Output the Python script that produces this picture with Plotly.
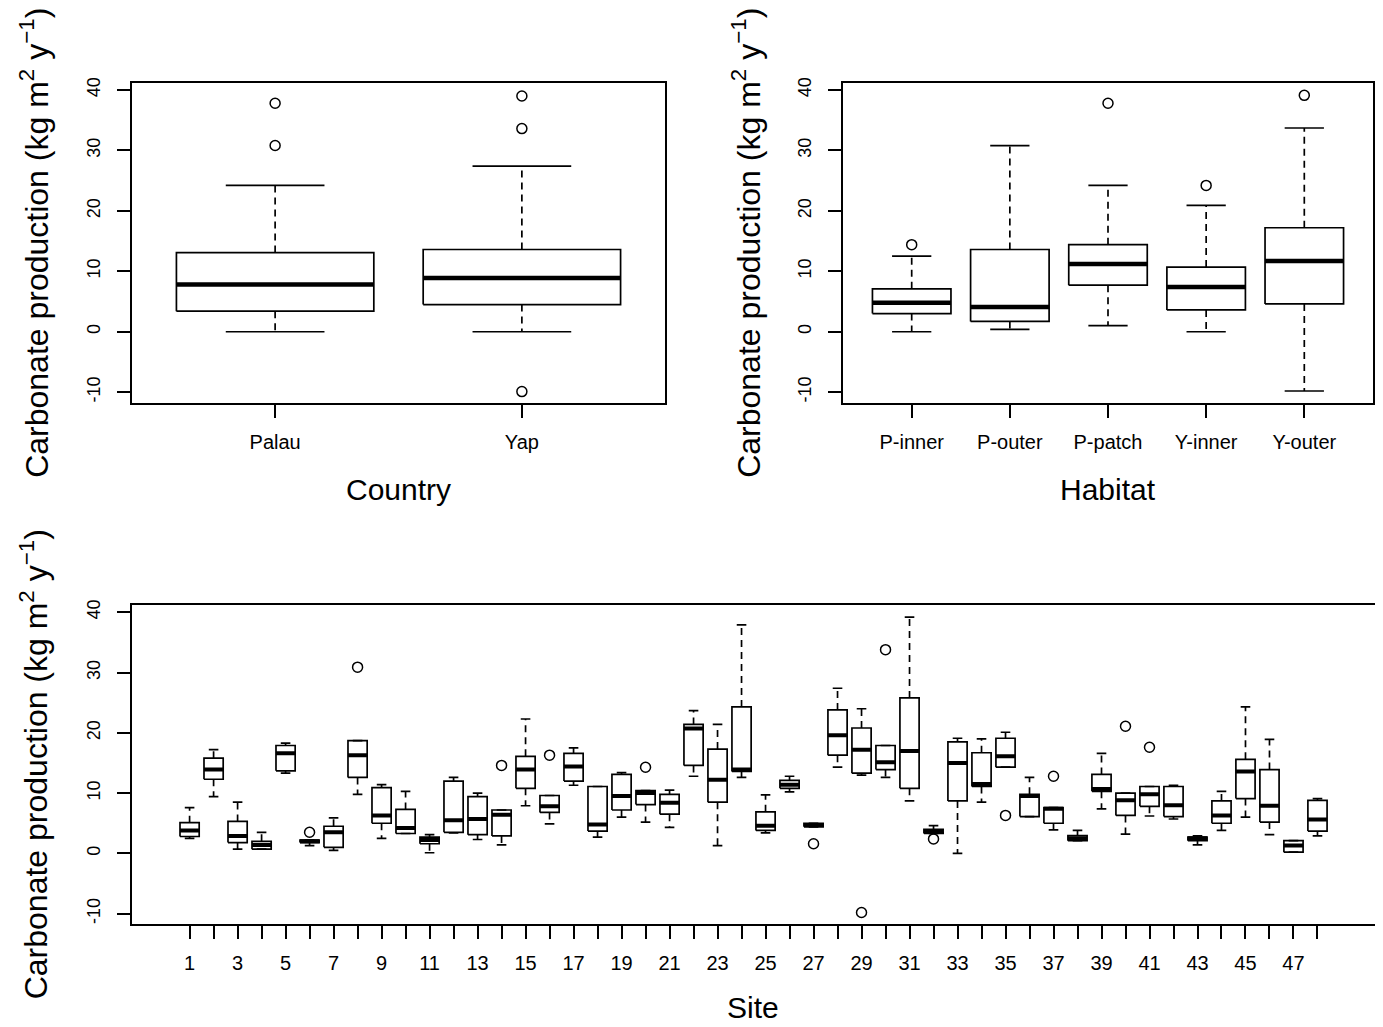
import plotly.graph_objects as go

# ---------------- data ----------------
countries = ["Palau", "Yap"]
country_lower = [0.0, 0.0]
country_q1 = [3.4, 4.5]
country_median = [7.8, 8.9]
country_q3 = [13.1, 13.6]
country_upper = [24.2, 27.4]
country_out_group = [1, 1, 2, 2, 2]
country_out_value = [37.8, 30.8, 39.0, 33.6, -9.9]

habitats = ["P-inner", "P-outer", "P-patch", "Y-inner", "Y-outer"]
habitat_lower = [0.0, 0.4, 1.0, 0.0, -9.8]
habitat_q1 = [3.0, 1.7, 7.7, 3.6, 4.6]
habitat_median = [4.8, 4.1, 11.2, 7.4, 11.7]
habitat_q3 = [7.1, 13.6, 14.4, 10.7, 17.2]
habitat_upper = [12.5, 30.8, 24.2, 20.9, 33.7]
habitat_out_group = [1, 3, 4, 5]
habitat_out_value = [14.4, 37.8, 24.2, 39.1]

sites = list(range(1, 49))
site_lower = [2.5, 9.4, 0.7, 0.7, 13.3, 1.3, 0.5, 9.8, 2.5, 3.3,
              0.1, 3.4, 2.3, 1.4, 7.9, 4.9, 11.3, 2.7, 6.0, 5.2,
              4.3, 12.8, 1.3, 12.6, 3.4, 10.2, 4.4, 14.3, 13.0, 12.6,
              8.7, 3.3, 0.0, 8.5, 14.3, 6.1, 3.9, 2.1, 7.4, 3.2,
              6.2, 5.7, 1.4, 3.8, 6.0, 3.1, 0.2, 2.9]
site_q1 = [2.8, 12.3, 1.8, 0.7, 13.7, 1.8, 1.0, 12.6, 5.0, 3.3,
           1.6, 3.5, 3.1, 2.9, 10.8, 6.8, 12.0, 3.7, 7.2, 8.1,
           6.5, 14.6, 8.5, 13.6, 3.8, 10.8, 4.4, 16.3, 13.3, 13.9,
           10.8, 3.3, 8.7, 11.1, 14.3, 6.1, 5.0, 2.1, 10.3, 6.3,
           7.8, 6.1, 2.1, 5.0, 9.1, 5.2, 0.2, 3.7]
site_median = [3.8, 13.9, 2.9, 1.4, 16.6, 2.0, 3.5, 16.3, 6.3, 4.2,
               2.2, 5.5, 5.7, 6.4, 13.9, 7.8, 14.4, 4.8, 9.5, 10.0,
               8.4, 20.7, 12.2, 13.9, 4.6, 11.4, 4.7, 19.6, 17.2, 15.1,
               17.0, 3.7, 15.0, 11.5, 16.1, 9.5, 7.4, 2.5, 10.7, 8.8,
               9.8, 8.0, 2.5, 6.3, 13.6, 7.9, 1.3, 5.6]
site_q3 = [5.1, 15.8, 5.3, 2.0, 17.9, 2.2, 4.5, 18.7, 10.9, 7.3,
           2.7, 12.0, 9.4, 7.2, 16.1, 9.6, 16.6, 11.1, 13.1, 10.4,
           9.8, 21.4, 17.3, 24.3, 6.9, 12.1, 5.0, 23.8, 20.8, 17.9,
           25.8, 4.0, 18.5, 16.7, 19.1, 9.8, 7.6, 2.95, 13.1, 10.0,
           11.1, 11.1, 2.7, 8.7, 15.6, 13.9, 2.1, 8.8]
site_upper = [7.6, 17.2, 8.5, 3.5, 18.3, 2.2, 5.9, 18.7, 11.4, 10.3,
              3.1, 12.6, 10.0, 7.2, 22.3, 9.6, 17.5, 11.1, 13.4, 10.4,
              10.5, 23.7, 21.4, 37.9, 9.7, 12.8, 5.0, 27.4, 24.0, 17.9,
              39.2, 4.6, 19.1, 19.0, 20.1, 12.6, 7.6, 3.8, 16.6, 10.0,
              11.1, 11.3, 2.9, 10.3, 24.3, 18.9, 2.1, 9.1]
site_out_group = [6, 8, 14, 16, 20, 27, 29, 30, 32, 35, 37, 40, 41]
site_out_value = [3.5, 30.9, 14.6, 16.3, 14.3, 1.6, -9.8, 33.8, 2.4, 6.3, 12.8, 21.1, 17.6]

y_ticks = [-10, 0, 10, 20, 30, 40]
y_title = "Carbonate production (kg m<sup>2</sup> y<sup>\u22121</sup>)"

# ---------------- figure ----------------
OFFX, OFFY = 8, 11           # page offsets of the html page
W, H = 1383 - OFFX, 1027 - OFFY
FONT = "Liberation Sans, Arial, sans-serif"
fig = go.Figure()


def add_boxes(n_ax, lower, q1, med, q3, upper, out_g, out_v, bw, lw, mw):
    xa, ya = "x" + ("" if n_ax == 1 else str(n_ax)), "y" + ("" if n_ax == 1 else str(n_ax))
    pos = list(range(1, len(med) + 1))
    wx, wy, bx, by, mx, my, sx, sy = [], [], [], [], [], [], [], []
    for c, lo, a, m, b, hi in zip(pos, lower, q1, med, q3, upper):
        wx += [c, c, None, c, c, None]
        wy += [b, hi, None, a, lo, None]
        bx += [c - bw / 2, c + bw / 2, c + bw / 2, c - bw / 2, c - bw / 2, None]
        by += [a, a, b, b, a, None]
        mx += [c - bw / 2, c + bw / 2, None]
        my += [m, m, None]
        sx += [c - bw / 4, c + bw / 4, None, c - bw / 4, c + bw / 4, None]
        sy += [hi, hi, None, lo, lo, None]
    common = dict(xaxis=xa, yaxis=ya, mode="lines", showlegend=False, hoverinfo="skip")
    fig.add_trace(go.Scatter(x=wx, y=wy, line=dict(color="black", width=lw, dash="7px,5px"), **common))
    fig.add_trace(go.Scatter(x=bx, y=by, fill="toself", fillcolor="white",
                             line=dict(color="black", width=lw), **common))
    fig.add_trace(go.Scatter(x=sx, y=sy, line=dict(color="black", width=lw), **common))
    fig.add_trace(go.Scatter(x=mx, y=my, line=dict(color="black", width=mw), **common))
    fig.add_trace(go.Scatter(x=out_g, y=out_v, xaxis=xa, yaxis=ya, mode="markers", showlegend=False,
                             marker=dict(symbol="circle-open", size=10, color="black", line=dict(width=1.5))))


add_boxes(1, country_lower, country_q1, country_median, country_q3, country_upper,
          country_out_group, country_out_value, 0.8, 1.7, 4.5)
add_boxes(2, habitat_lower, habitat_q1, habitat_median, habitat_q3, habitat_upper,
          habitat_out_group, habitat_out_value, 0.8, 1.7, 4.5)
add_boxes(3, site_lower, site_q1, site_median, site_q3, site_upper,
          site_out_group, site_out_value, 0.8, 1.7, 4.0)

# panel pixel boxes in screen coords: (left, right, top, bottom)
panels = {
    1: (132, 665, 81, 403),
    2: (843, 1373, 81, 403),
    3: (132, 1377, 606, 927),
}


def clamp(v):
    return max(0.0, min(1.0, v))


def xdom(p):
    return [clamp((p[0] - OFFX) / W), clamp((p[1] - OFFX) / W)]


def ydom(p):
    return [clamp(1 - (p[3] - OFFY) / H), clamp(1 - (p[2] - OFFY) / H)]


axis_common = dict(showline=True, mirror=True, linecolor="black", linewidth=1.5,
                   ticks="outside", ticklen=13, tickwidth=1.5, tickcolor="black",
                   showgrid=False, zeroline=False, fixedrange=True)

yax = dict(range=[-11.8, 41.2], tickvals=y_ticks, ticktext=[str(v) for v in y_ticks],
           tickangle=-90, tickfont=dict(family=FONT, size=18, color="black"),
           ticklabelstandoff=10, **axis_common)

fig.update_layout(
    xaxis=dict(domain=xdom(panels[1]), anchor="y", range=[0.42, 2.58],
               tickvals=[1, 2], ticktext=countries,
               tickfont=dict(family=FONT, size=20, color="black"), ticklabelstandoff=7, **axis_common),
    yaxis=dict(domain=ydom(panels[1]), anchor="x", **yax),
    xaxis2=dict(domain=xdom(panels[2]), anchor="y2", range=[0.3, 5.7],
                tickvals=[1, 2, 3, 4, 5], ticktext=habitats,
                tickfont=dict(family=FONT, size=20, color="black"), ticklabelstandoff=7, **axis_common),
    yaxis2=dict(domain=ydom(panels[2]), anchor="x2", **yax),
    xaxis3=dict(domain=xdom(panels[3]), anchor="y3", range=[-1.4, 50.48],
                tickvals=sites, ticktext=[str(s) if s % 2 == 1 else "" for s in sites],
                tickfont=dict(family=FONT, size=20, color="black"), ticklabelstandoff=7, **axis_common),
    yaxis3=dict(domain=ydom(panels[3]), anchor="x3", **yax),
    width=W, height=H, autosize=False,
    margin=dict(l=0, r=0, t=0, b=0),
    paper_bgcolor="white", plot_bgcolor="white",
    showlegend=False,
)

annots = []
# y titles
for px, py in [(34, 242), (746, 242), (34, 766)]:
    annots.append(dict(x=(px - OFFX) / W, y=1 - (py - OFFY) / H, xref="paper", yref="paper", text=y_title,
                       textangle=-90, showarrow=False, xanchor="center", yanchor="middle",
                       font=dict(family=FONT, size=32, color="black")))
# x titles
for txt, px, py in [("Country", 398, 490), ("Habitat", 1108, 490), ("Site", 753, 1010)]:
    annots.append(dict(x=(px - OFFX) / W, y=1 - (py - OFFY) / H, xref="paper", yref="paper", text=txt,
                       showarrow=False, xanchor="center", yanchor="middle",
                       font=dict(family=FONT, size=30, color="black")))
fig.update_layout(annotations=annots)

fig.write_html("out.html")
